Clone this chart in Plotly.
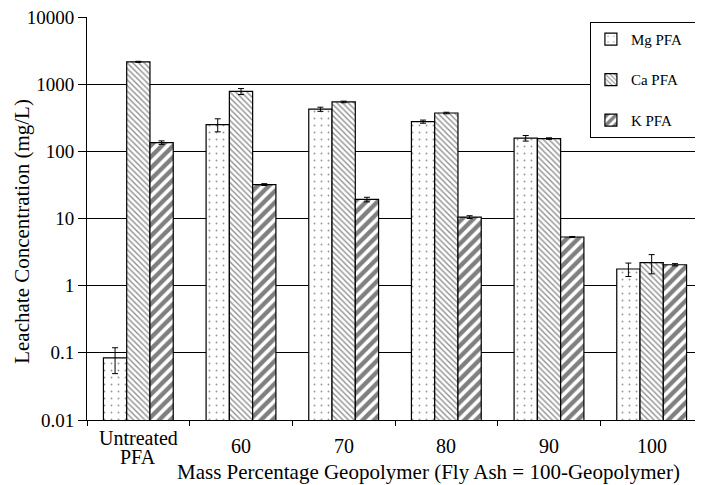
import plotly.graph_objects as go

categories = ["Untreated<br>PFA", "60", "70", "80", "90", "100"]
series_names = ["Mg PFA", "Ca PFA", "K PFA"]
mg_values = [0.084, 250, 424, 277, 157, 1.77]
mg_errors = [0.035, 55, 30, 15, 15, 0.4]
ca_values = [2150, 780, 544, 372, 155, 2.2]
ca_errors = [40, 80, 15, 10, 4, 0.7]
k_values = [135, 32, 19.2, 10.5, 5.3, 2.05]
k_errors = [8, 1, 1.5, 0.5, 0.1, 0.08]
y_tick_values = [0.01, 0.1, 1, 10, 100, 1000, 10000]
y_tick_labels = ["0.01", "0.1", "1", "10", "100", "1000", "10000"]
x_title = "Mass Percentage Geopolymer (Fly Ash = 100-Geopolymer)"
y_title = "Leachate Concentration (mg/L)"

FONT = "Liberation Serif"
PAD = "\u00a0\u00a0\u00a0"

styles = [
    dict(shape=".", size=7, solidity=0.06, fgcolor="#333333", bgcolor="white"),
    dict(shape="\\", size=4, solidity=0.35, fgcolor="#222222", bgcolor="white"),
    dict(shape="/", size=8, solidity=0.55, fgcolor="black", bgcolor="white"),
]
values = [mg_values, ca_values, k_values]
errors = [mg_errors, ca_errors, k_errors]

fig = go.Figure()
for i, name in enumerate(series_names):
    fig.add_trace(go.Bar(
        name=name + PAD,
        x=categories,
        y=values[i],
        legendgroup=name,
        marker=dict(color="white", line=dict(color="black", width=1.2), pattern=styles[i]),
        error_y=dict(type="data", array=errors[i], color="black", thickness=1, width=3),
    ))

# category labels: single-line labels sit midway between the two lines of a two-line label
for idx, cat in enumerate(categories):
    lines = cat.split("<br>")
    if len(lines) == 1:
        ys = [-0.0645]
    else:
        ys = [-0.0440, -0.0925]
    for line, yy in zip(lines, ys):
        fig.add_annotation(
            text=line, xref="x", yref="paper", x=idx, y=yy,
            xanchor="center", yanchor="middle", showarrow=False,
            height=18, valign="middle",
            font=dict(family=FONT, size=20, color="black"),
        )

fig.add_annotation(
    text=x_title, xref="paper", yref="paper",
    x=0.555, y=-0.129, xanchor="center", yanchor="middle",
    showarrow=False, font=dict(family=FONT, size=21, color="black"),
)
fig.add_annotation(
    text=y_title, xref="paper", yref="paper", textangle=-90,
    x=-0.1055, y=0.467, xanchor="center", yanchor="middle",
    showarrow=False, font=dict(family=FONT, size=21, color="black"),
)

# page body has an 8px margin; size the figure so the plot lands where the reference has it
fig.update_layout(
    width=695, height=477,
    margin=dict(l=79, r=0, t=9, b=65),
    paper_bgcolor="white", plot_bgcolor="white",
    barmode="group", bargap=0.32, bargroupgap=0,
    font=dict(family=FONT, color="black", size=17),
    legend=dict(
        x=0.995, y=0.988, xanchor="right", yanchor="top",
        bgcolor="white", bordercolor="black", borderwidth=1,
        font=dict(family=FONT, size=15),
        tracegroupgap=18, itemwidth=30,
    ),
    xaxis=dict(
        type="category", categoryorder="array", categoryarray=categories,
        showline=True, linecolor="black", linewidth=1,
        ticks="outside", ticklen=5, tickcolor="black", tickson="boundaries",
        showticklabels=False,
        showgrid=False, automargin=False,
    ),
    yaxis=dict(
        type="log", range=[-2, 4],
        tickvals=y_tick_values, ticktext=y_tick_labels,
        showline=True, linecolor="black", linewidth=1,
        ticks="outside", ticklen=8, tickcolor="black",
        tickfont=dict(family=FONT, size=19),
        ticklabeloverflow="allow",
        showgrid=True, gridcolor="black", gridwidth=1,
        zeroline=False, automargin=False,
    ),
)

fig.write_html("out.html")
